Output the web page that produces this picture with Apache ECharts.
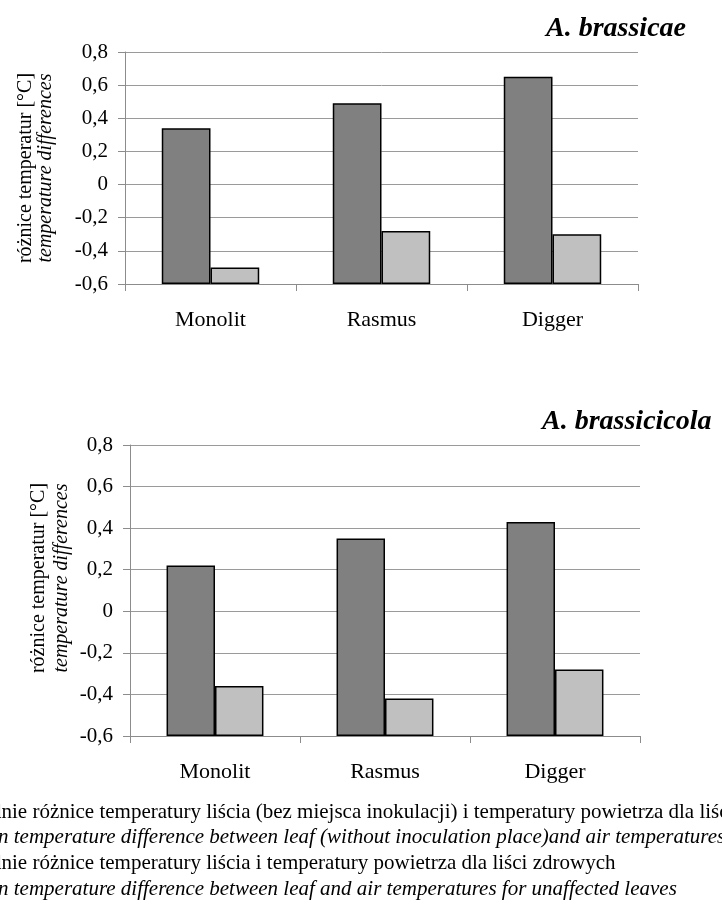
<!DOCTYPE html>
<html>
<head>
<meta charset="utf-8">
<script src="https://cdn.jsdelivr.net/npm/echarts@6/dist/echarts.min.js"></script>
<style>
html,body{margin:0;padding:0;background:#fff;}
#chart{width:722px;height:910px;}
</style>
</head>
<body>
<div id="chart"></div>
<script>
const categories = ['Monolit', 'Rasmus', 'Digger'];
const brassicaeInfected = [0.34, 0.49, 0.65];
const brassicaeHealthy = [-0.50, -0.28, -0.30];
const brassicicolaInfected = [0.22, 0.35, 0.43];
const brassicicolaHealthy = [-0.36, -0.42, -0.28];
const yMin = -0.6, yMax = 0.8, yStep = 0.2;
const titles = ['A. brassicae', 'A. brassicicola'];
const yTitlePl = 'różnice temperatur [°C]';
const yTitleEn = 'temperature differences';
const legendLines = [
  'Średnie różnice temperatury liścia (bez miejsca inokulacji) i temperatury powietrza dla liści',
  'mean temperature difference between leaf (without inoculation place)and air temperatures',
  'Średnie różnice temperatury liścia i temperatury powietrza dla liści zdrowych',
  'mean temperature difference between leaf and air temperatures for unaffected leaves'
];

const FONT = "'Liberation Serif', 'Times New Roman', serif";
const chart = echarts.init(document.getElementById('chart'), null, {renderer: 'canvas'});

const grids = [
  {left: 125, top: 52, width: 513, height: 232},
  {left: 130, top: 445, width: 510, height: 291}
];

function fmt(v) { return String(Math.round(v * 10) / 10).replace('.', ','); }

function xAxisCfg(i) {
  return {
    type: 'category', gridIndex: i, data: categories,
    axisLine: {onZero: false, lineStyle: {color: '#8c8c8c', width: 1}},
    axisTick: {show: true, length: 7, lineStyle: {color: '#8c8c8c'}},
    axisLabel: {color: '#000', fontFamily: FONT, fontSize: 22, margin: 25},
    splitLine: {show: false}
  };
}
function yAxisCfg(i) {
  return {
    type: 'value', gridIndex: i, min: yMin, max: yMax, interval: yStep,
    startValue: yMin,
    axisLine: {show: true, lineStyle: {color: '#8c8c8c', width: 1}},
    axisTick: {show: true, length: 7, lineStyle: {color: '#8c8c8c'}},
    axisLabel: {color: '#000', fontFamily: FONT, fontSize: 21, margin: 17, formatter: fmt},
    splitLine: {show: true, lineStyle: {color: '#9a9a9a', width: 1}}
  };
}
function barSeries(i, data, color) {
  return {
    type: 'bar', xAxisIndex: i, yAxisIndex: i, data: data,
    barWidth: '28.5%', barGap: '0%',
    itemStyle: {color: color, borderColor: '#000', borderWidth: 1.5},
    silent: true, animation: false
  };
}

const yTitleCenters = [[26, 46, 168], [39, 62, 578]];
const graphics = [];
yTitleCenters.forEach(function (c) {
  graphics.push({type: 'text', x: c[0], y: c[2], rotation: Math.PI / 2,
    style: {text: yTitlePl, font: '20px ' + FONT, fill: '#000', align: 'center', verticalAlign: 'middle'}});
  graphics.push({type: 'text', x: c[1], y: c[2], rotation: Math.PI / 2,
    style: {text: yTitleEn, font: 'italic 20px ' + FONT, fill: '#000', align: 'center', verticalAlign: 'middle'}});
});
const legendY = [812, 837, 863, 889];
legendLines.forEach(function (t, k) {
  graphics.push({type: 'text', x: -37, y: legendY[k],
    style: {text: t, font: (k % 2 ? 'italic ' : '') + '21px ' + FONT, fill: '#000', align: 'left', verticalAlign: 'middle'}});
});

chart.setOption({
  animation: false,
  backgroundColor: '#ffffff',
  title: [
    {text: titles[0], left: 541, top: 10, textStyle: {fontFamily: FONT, fontSize: 28, fontWeight: 'bold', fontStyle: 'italic', color: '#000'}},
    {text: titles[1], left: 537, top: 403, textStyle: {fontFamily: FONT, fontSize: 28, fontWeight: 'bold', fontStyle: 'italic', color: '#000'}}
  ],
  grid: grids,
  xAxis: [xAxisCfg(0), xAxisCfg(1)],
  yAxis: [yAxisCfg(0), yAxisCfg(1)],
  series: [
    barSeries(0, brassicaeInfected, '#808080'),
    barSeries(0, brassicaeHealthy, '#c0c0c0'),
    barSeries(1, brassicicolaInfected, '#808080'),
    barSeries(1, brassicicolaHealthy, '#c0c0c0')
  ],
  graphic: graphics
});
</script>
</body>
</html>
